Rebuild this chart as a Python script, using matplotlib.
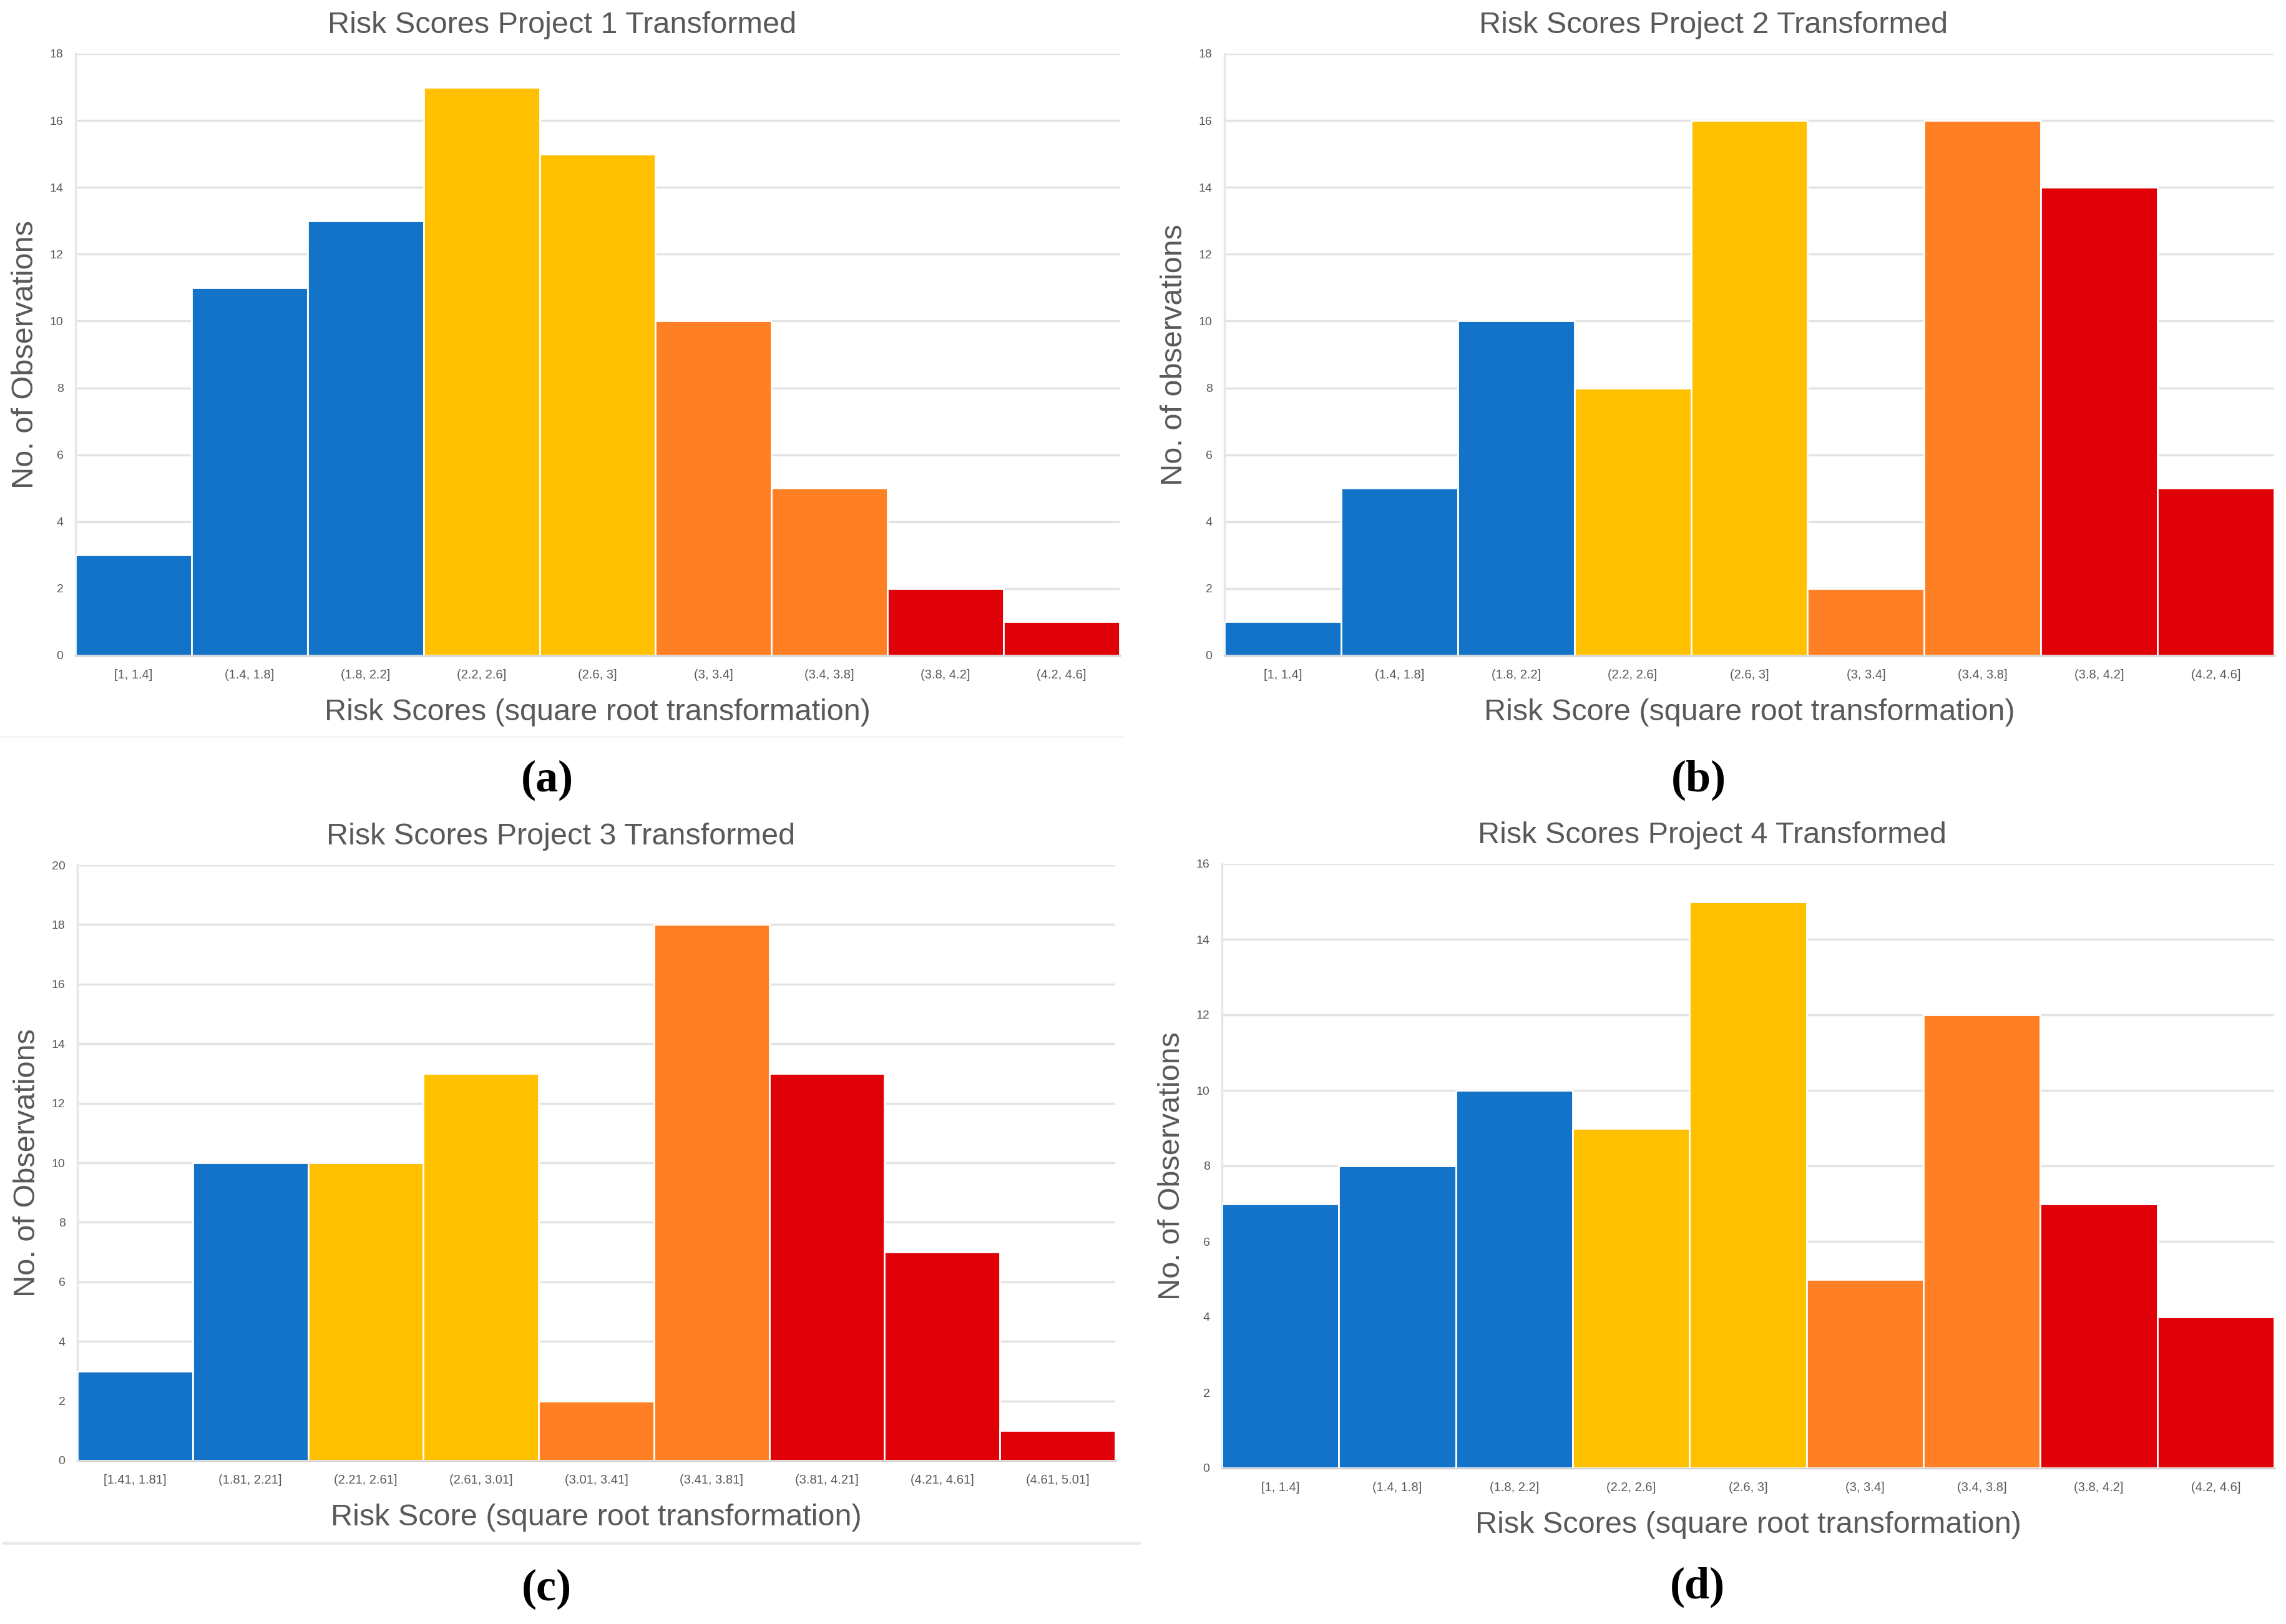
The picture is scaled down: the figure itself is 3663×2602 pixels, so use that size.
import matplotlib
matplotlib.use("Agg")
import matplotlib.pyplot as plt
from matplotlib.lines import Line2D
import numpy as np

# ---------------- data ----------------
bins_std = ["[1, 1.4]", "(1.4, 1.8]", "(1.8, 2.2]", "(2.2, 2.6]", "(2.6, 3]",
            "(3, 3.4]", "(3.4, 3.8]", "(3.8, 4.2]", "(4.2, 4.6]"]
bins_p3 = ["[1.41, 1.81]", "(1.81, 2.21]", "(2.21, 2.61]", "(2.61, 3.01]", "(3.01, 3.41]",
           "(3.41, 3.81]", "(3.81, 4.21]", "(4.21, 4.61]", "(4.61, 5.01]"]

counts_p1 = [3, 11, 13, 17, 15, 10, 5, 2, 1]
counts_p2 = [1, 5, 10, 8, 16, 2, 16, 14, 5]
counts_p3 = [3, 10, 10, 13, 2, 18, 13, 7, 1]
counts_p4 = [7, 8, 10, 9, 15, 5, 12, 7, 4]

# risk category per bin: 0 blue, 1 yellow, 2 orange, 3 red
cat_p1 = [0, 0, 0, 1, 1, 2, 2, 3, 3]
cat_p2 = [0, 0, 0, 1, 1, 2, 2, 3, 3]
cat_p3 = [0, 0, 1, 1, 2, 2, 3, 3, 3]
cat_p4 = [0, 0, 0, 1, 1, 2, 2, 3, 3]

titles = ["Risk Scores Project 1 Transformed", "Risk Scores Project 2 Transformed",
          "Risk Scores Project 3 Transformed", "Risk Scores Project 4 Transformed"]
xlabels = ["Risk Scores (square root transformation)", "Risk Score (square root transformation)",
           "Risk Score (square root transformation)", "Risk Scores (square root transformation)"]
ylabels = ["No. of Observations", "No. of observations", "No. of Observations", "No. of Observations"]
ymax = [18, 18, 20, 16]
panel_letters = ["(a)", "(b)", "(c)", "(d)"]

palette = ["#1373C8", "#FFC000", "#FF7F24", "#E00008"]

# ---------------- figure ----------------
W, H = 3663, 2602
fig = plt.figure(figsize=(W / 100, H / 100), dpi=100)
fig.patch.set_facecolor("white")

# axes rectangles in pixel coords (left, top, right, bottom)
rects = [(121, 86, 1794, 1050),
         (1962, 86, 3644, 1050),
         (124, 1386, 1787, 2340),
         (1958, 1384, 3644, 2352)]
letter_y = [1250, 1250, 2546, 2543]

grey = "#595959"
sans = "Liberation Sans"

data = [(counts_p1, cat_p1, bins_std), (counts_p2, cat_p2, bins_std),
        (counts_p3, cat_p3, bins_p3), (counts_p4, cat_p4, bins_std)]

# faint chart-border lines from the source screenshots
fig.add_artist(Line2D([0 / W, 1800 / W], [1 - 1180 / H] * 2, color="#F5F5F5", lw=2.5))
fig.add_artist(Line2D([5 / W, 1825 / W], [1 - 2472 / H] * 2, color="#EAEAEA", lw=3.5))

for i, (counts, cats, labels) in enumerate(data):
    l, t, r, b = rects[i]
    ax = fig.add_axes([l / W, 1 - b / H, (r - l) / W, (b - t) / H])
    x = np.arange(len(counts))
    ax.bar(x, counts, width=1.0, color=[palette[c] for c in cats],
           edgecolor="white", linewidth=2.0, zorder=3)
    ax.set_xlim(-0.5, len(counts) - 0.5)
    ax.set_ylim(0, ymax[i])
    ax.set_yticks(np.arange(0, ymax[i] + 1, 2))
    ax.set_xticks(x)
    ax.set_xticklabels(labels, fontsize=14.5, color=grey, family=sans)
    for lab in ax.get_yticklabels():
        lab.set_fontsize(14)
        lab.set_color(grey)
        lab.set_family(sans)
    ax.tick_params(axis="y", length=0, pad=14)
    ax.tick_params(axis="x", length=0, pad=16)
    ax.grid(axis="y", color="#E3E3E3", linewidth=2.5, zorder=0)
    ax.set_axisbelow(True)
    for s in ["top", "right"]:
        ax.spines[s].set_visible(False)
    ax.spines["left"].set_color("#E6E6E6")
    ax.spines["left"].set_linewidth(2.5)
    ax.spines["bottom"].set_color("#D0D0D0")
    ax.spines["bottom"].set_linewidth(2.5)
    ax.set_title(titles[i], fontsize=35, color=grey, family=sans, pad=24, x=0.466)
    ax.set_xlabel(xlabels[i], fontsize=35, color=grey, family=sans, labelpad=20)
    ax.set_ylabel(ylabels[i], fontsize=35, color=grey, family=sans, labelpad=12)
    cx = (l + 0.452 * (r - l)) / W
    fig.text(cx, 1 - letter_y[i] / H, panel_letters[i], ha="center", va="center",
             fontsize=52, fontweight="bold", family="Liberation Serif", color="black")

fig.savefig("out.png", dpi=100, facecolor="white")
